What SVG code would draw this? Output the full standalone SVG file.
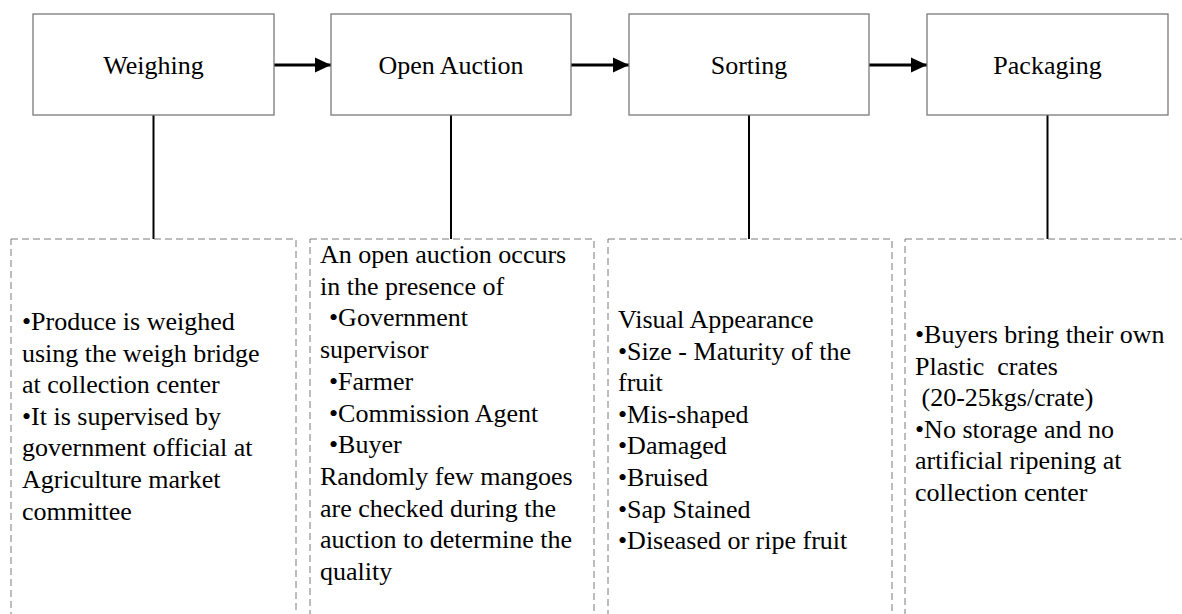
<svg xmlns="http://www.w3.org/2000/svg" width="1182" height="614" viewBox="0 0 1182 614">
  <style>
    .stage { fill: #ffffff; stroke: #7a7a7a; stroke-width: 1.3; }
    .note { fill: #ffffff; stroke: #7a7a7a; stroke-width: 1; stroke-dasharray: 7 4; }
    .title { font-family: "Liberation Serif", "Times New Roman", serif; font-size: 26px; fill: #000; text-anchor: middle; }
    .body { font-family: "Liberation Serif", "Times New Roman", serif; font-size: 26px; fill: #000; white-space: pre; }
    .flow { stroke: #000; stroke-width: 3; fill: none; marker-end: url(#head); }
    .link { stroke: #000; stroke-width: 2; fill: none; }
  </style>
  <defs>
    <marker id="head" markerUnits="userSpaceOnUse" markerWidth="18" markerHeight="18" refX="16" refY="8" orient="auto">
      <path d="M0,0.5 L16,8 L0,15.5 Z" fill="#000"/>
    </marker>
  </defs>
  <rect width="1182" height="614" fill="#ffffff"/>

  <!-- connectors between stages and down to the notes -->
  <g id="connectors">
    <line class="flow" x1="274" y1="65" x2="331" y2="65"/>
    <line class="flow" x1="571" y1="65" x2="629" y2="65"/>
    <line class="flow" x1="869" y1="65" x2="927" y2="65"/>
    <line class="link" x1="153.5" y1="115" x2="153.5" y2="239"/>
    <line class="link" x1="451" y1="115" x2="451" y2="239"/>
    <line class="link" x1="749" y1="115" x2="749" y2="239"/>
    <line class="link" x1="1047.5" y1="115" x2="1047.5" y2="239"/>
  </g>

  <!-- stage boxes -->
  <g id="weighing">
    <rect class="stage" x="33" y="14" width="241" height="101"/>
    <text class="title" x="153.5" y="74">Weighing</text>
  </g>
  <g id="open-auction">
    <rect class="stage" x="331" y="14" width="240" height="101"/>
    <text class="title" x="451" y="74">Open Auction</text>
  </g>
  <g id="sorting">
    <rect class="stage" x="629" y="14" width="240" height="101"/>
    <text class="title" x="749" y="74">Sorting</text>
  </g>
  <g id="packaging">
    <rect class="stage" x="927" y="14" width="241" height="101"/>
    <text class="title" x="1047.5" y="74">Packaging</text>
  </g>

  <!-- detail notes -->
  <g id="weighing-notes">
    <rect class="note" x="11" y="239" width="285" height="400"/>
    <text class="body">
      <tspan x="22" y="330">•Produce is weighed</tspan>
      <tspan x="22" y="361.6">using the weigh bridge</tspan>
      <tspan x="22" y="393.2">at collection center</tspan>
      <tspan x="22" y="424.8">•It is supervised by</tspan>
      <tspan x="22" y="456.4">government official at</tspan>
      <tspan x="22" y="488">Agriculture market</tspan>
      <tspan x="22" y="519.6">committee</tspan>
    </text>
  </g>
  <g id="auction-notes">
    <rect class="note" x="310" y="239" width="284" height="400"/>
    <text class="body">
      <tspan x="320" y="263">An open auction occurs</tspan>
      <tspan x="320" y="294.7">in the presence of</tspan>
      <tspan x="329" y="326.4">•Government</tspan>
      <tspan x="320" y="358.1">supervisor</tspan>
      <tspan x="329" y="389.8">•Farmer</tspan>
      <tspan x="329" y="421.5">•Commission Agent</tspan>
      <tspan x="329" y="453.2">•Buyer</tspan>
      <tspan x="320" y="484.9">Randomly few mangoes</tspan>
      <tspan x="320" y="516.6">are checked during the</tspan>
      <tspan x="320" y="548.3">auction to determine the</tspan>
      <tspan x="320" y="580">quality</tspan>
    </text>
  </g>
  <g id="sorting-notes">
    <rect class="note" x="608" y="239" width="284" height="400"/>
    <text class="body">
      <tspan x="618" y="328">Visual Appearance</tspan>
      <tspan x="618" y="359.6">•Size - Maturity of the</tspan>
      <tspan x="618" y="391.2">fruit</tspan>
      <tspan x="618" y="422.8">•Mis-shaped</tspan>
      <tspan x="618" y="454.4">•Damaged</tspan>
      <tspan x="618" y="486">•Bruised</tspan>
      <tspan x="618" y="517.6">•Sap Stained</tspan>
      <tspan x="618" y="549.2">•Diseased or ripe fruit</tspan>
    </text>
  </g>
  <g id="packaging-notes">
    <rect class="note" x="905" y="239" width="300" height="400"/>
    <text class="body">
      <tspan x="915" y="343">•Buyers bring their own</tspan>
      <tspan x="915" y="374.6">Plastic  crates</tspan>
      <tspan x="915" y="406.2"> (20-25kgs/crate)</tspan>
      <tspan x="915" y="437.8">•No storage and no</tspan>
      <tspan x="915" y="469.4">artificial ripening at</tspan>
      <tspan x="915" y="501">collection center</tspan>
    </text>
  </g>
</svg>
